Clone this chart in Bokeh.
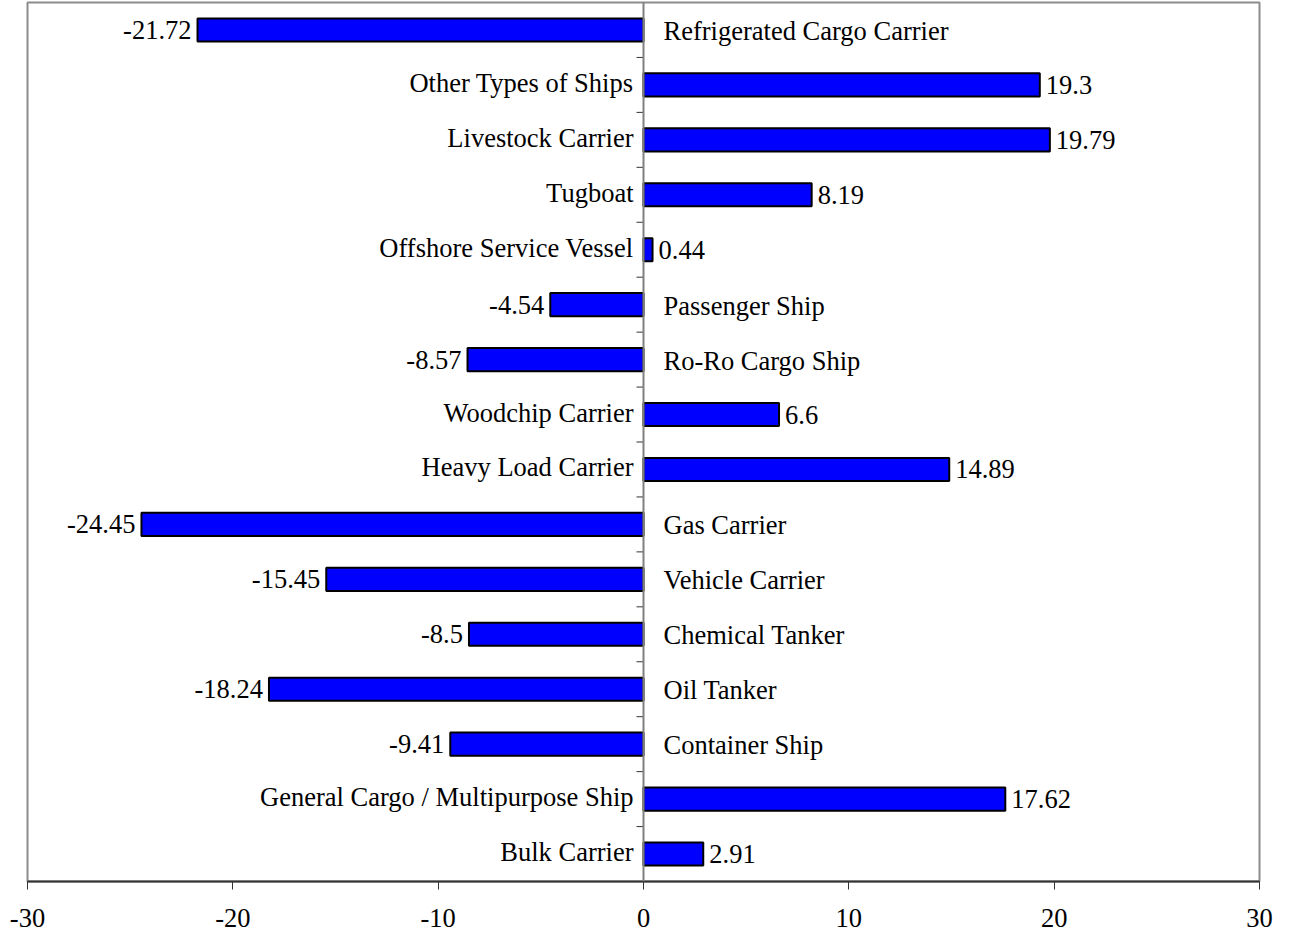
from bokeh.plotting import figure
from bokeh.models import ColumnDataSource, FixedTicker, Span
from bokeh.core.properties import value
from bokeh.embed import file_html
from bokeh.resources import INLINE

categories = [
    "Refrigerated Cargo Carrier", "Other Types of Ships", "Livestock Carrier", "Tugboat",
    "Offshore Service Vessel", "Passenger Ship", "Ro-Ro Cargo Ship", "Woodchip Carrier",
    "Heavy Load Carrier", "Gas Carrier", "Vehicle Carrier", "Chemical Tanker",
    "Oil Tanker", "Container Ship", "General Cargo / Multipurpose Ship", "Bulk Carrier",
]
values = [-21.72, 19.3, 19.79, 8.19, 0.44, -4.54, -8.57, 6.6, 14.89, -24.45,
          -15.45, -8.5, -18.24, -9.41, 17.62, 2.91]
value_labels = ["-21.72", "19.3", "19.79", "8.19", "0.44", "-4.54", "-8.57", "6.6", "14.89",
                "-24.45", "-15.45", "-8.5", "-18.24", "-9.41", "17.62", "2.91"]
x_ticks = [-30, -20, -10, 0, 10, 20, 30]
x_tick_labels = ["-30", "-20", "-10", "0", "10", "20", "30"]

n = len(categories)
ypos = [n - i - 0.5 for i in range(n)]
FONT = "Liberation Serif"
FS = "26.5px"

p = figure(width=1285, height=934, x_range=(-30, 30), y_range=(0, n),
           output_backend="svg", toolbar_location=None, y_axis_location=None,
           min_border_left=27, min_border_right=26, min_border_top=2, min_border_bottom=53)
p.grid.visible = False
p.outline_line_color = "#8c8c8c"
p.outline_line_width = 2
p.background_fill_color = "white"
p.border_fill_color = "white"

p.xaxis.ticker = FixedTicker(ticks=x_ticks)
p.xaxis.major_label_overrides = {t: l for t, l in zip(x_ticks, x_tick_labels)}
p.xaxis.minor_tick_line_color = None
p.xaxis.major_tick_in = 0
p.xaxis.major_tick_out = 8
p.xaxis.axis_line_color = "#333333"
p.xaxis.axis_line_width = 2
p.xaxis.major_tick_line_color = "#333333"
p.xaxis.major_tick_line_width = 1
p.xaxis.major_label_text_font = FONT
p.xaxis.major_label_text_font_size = FS
p.xaxis.major_label_text_color = "black"
p.xaxis.major_label_standoff = 19

# zero line
p.add_layout(Span(location=0, dimension="height", line_color="#808080", line_width=2))

# category separator ticks on zero line
bounds = list(range(1, n))
p.ray(x=[0] * len(bounds), y=bounds, length=7, length_units="screen", angle=3.14159265,
      line_color="#333333", line_width=1)

src = ColumnDataSource(dict(y=ypos, v=values, cat=categories, lab=value_labels))
p.hbar(y="y", left=0, right="v", height=0.42, source=src,
       fill_color="#0000FF", line_color="black", line_width=2)

pos = [i for i, v in enumerate(values) if v >= 0]
neg = [i for i, v in enumerate(values) if v < 0]

def sub(idx):
    return ColumnDataSource(dict(y=[ypos[i] for i in idx], v=[values[i] for i in idx],
                                 zero=[0] * len(idx),
                                 cat=[categories[i] for i in idx],
                                 lab=[value_labels[i] for i in idx]))

ps, ns = sub(pos), sub(neg)
common = dict(text_font=value(FONT), text_font_size=FS, text_color="black",
              text_baseline="middle")
# category labels
p.text(x="zero", y="y", text="cat", source=ps, text_align="right", x_offset=-10, y_offset=-2, **common)
p.text(x="zero", y="y", text="cat", source=ns, text_align="left", x_offset=20, y_offset=1, **common)
# value labels
p.text(x="v", y="y", text="lab", source=ps, text_align="left", x_offset=6, **common)
p.text(x="v", y="y", text="lab", source=ns, text_align="right", x_offset=-6, **common)

open("out.html", "w").write(file_html(p, INLINE))
